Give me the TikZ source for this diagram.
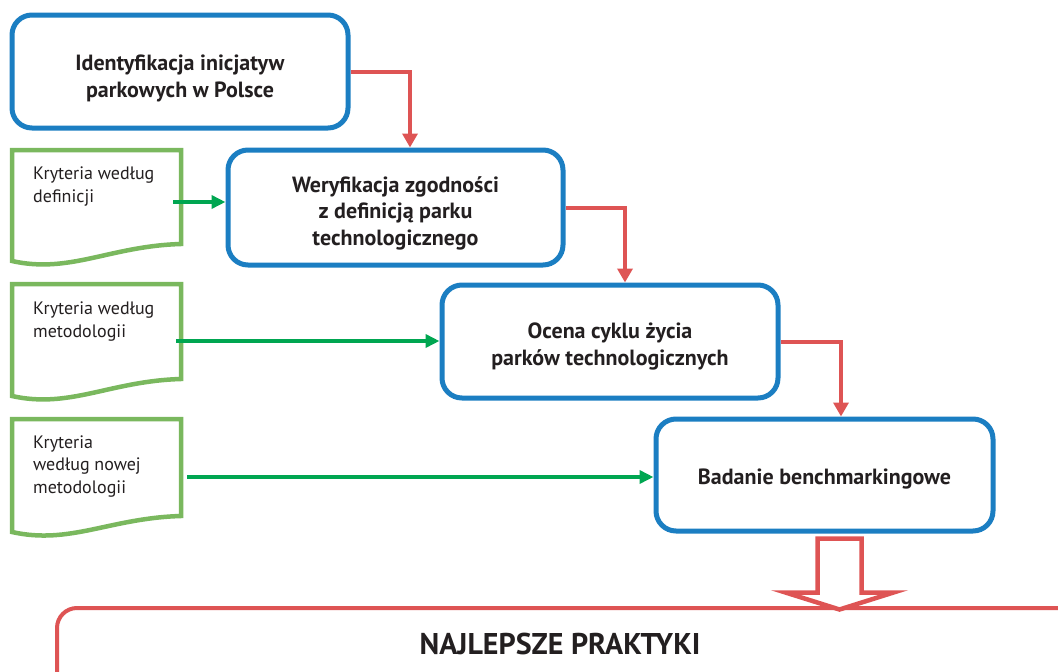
\documentclass[tikz,border=0pt]{standalone}
\usepackage{fontspec}
\setmainfont{PT Sans}
\usetikzlibrary{arrows.meta,calc}
\definecolor{boxblue}{HTML}{1B7EC2}
\definecolor{flowred}{HTML}{DE5454}
\definecolor{docgreen}{HTML}{7AB85E}
\definecolor{inarrow}{HTML}{00A651}
\definecolor{ink}{HTML}{231F20}
\tikzset{
  stagebox/.style={draw=boxblue, line width=5pt, rounded corners=20pt, fill=white},
  stagetext/.style={text=ink, align=center, inner sep=0pt,
    font=\fontsize{22}{26.5}\selectfont\bfseries},
  docshape/.style={draw=docgreen, line width=4.5pt, fill=white, line join=miter},
  doctext/.style={anchor=base west, align=left, text=ink, inner sep=0pt,
    font=\fontsize{18}{22.3}\selectfont},
  flow/.style={draw=flowred, line width=4pt, -{Triangle[length=14pt,width=15pt]}},
  feed/.style={draw=inarrow, line width=3.5pt, -{Triangle[length=14pt,width=13pt]}},
}
\begin{document}
\begin{tikzpicture}[x=1pt,y=-1pt]
\useasboundingbox (0,0) rectangle (1058,672);

% process stages
\node[stagebox, minimum width=336pt, minimum height=113pt] (box1) at (180,71.5) {};
\node[stagebox, minimum width=335pt, minimum height=115pt] (box2) at (395.5,207.5) {};
\node[stagebox, minimum width=336pt, minimum height=113pt] (box3) at (610,341.5) {};
\node[stagebox, minimum width=337pt, minimum height=112pt] (box4) at (824.5,475) {};
\node[stagetext] (box1text) at ($(box1.center)+(0,7)$)
  {Identyfikacja inicjatyw\\parkowych w Polsce};
\node[stagetext] (box2text) at ($(box2.center)+(0,5.5)$)
  {Weryfikacja zgodności\\z definicją parku\\technologicznego};
\node[stagetext] (box3text) at ($(box3.center)+(0,5)$)
  {Ocena cyklu życia\\parków technologicznych};
\node[stagetext] (box4text) at ($(box4.center)+(0,4.5)$)
  {Badanie benchmarkingowe};

% criteria documents
\draw[docshape] (12,261) -- (12,150) -- (181,150) -- (181,244)
  .. controls (110,246) and (70,274) .. cycle;
\draw[docshape] (12,396) -- (12,284) -- (181,284) -- (181,379)
  .. controls (110,381) and (70,409) .. cycle;
\draw[docshape] (12,532) -- (12,419) -- (181,419) -- (181,516)
  .. controls (110,518) and (70,545) .. cycle;
% (anchored at the baseline of the last line)
\node[doctext] (doc1) at (33,202) {Kryteria według\\definicji};
\node[doctext] (doc2) at (33,337) {Kryteria według\\metodologii};
\node[doctext] (doc3) at (33,493) {Kryteria\\według nowej\\metodologii};
\coordinate (out1) at (173,202);
\coordinate (out2) at (176,341);
\coordinate (out3) at (187,477);

% criteria feeding the stages
\draw[feed] (out1) -- (out1 -| box2.west);
\draw[feed] (out2) -- (out2 -| box3.west);
\draw[feed] (out3) -- (out3 -| box4.west);

% sequence of stages
\draw[flow] (box1.east) -| ([xshift=14.5pt]box2.north);
\draw[flow] (box2.east) -| ([xshift=15pt]box3.north);
\draw[flow] (box3.east) -| ([xshift=16.5pt]box4.north);

% result
\draw[draw=flowred, line width=4pt, rounded corners=20pt, fill=white]
  (57,608) rectangle (1100,720);
\node[text=ink, font=\fontsize{30}{34}\selectfont\bfseries] (best) at (560,644)
  {NAJLEPSZE PRAKTYKI};
\coordinate (bigtop) at ($(box4.south)+(15,5)$);
\draw[draw=flowred, line width=4.5pt, fill=white, line join=miter]
  ($(bigtop)+(-22,0)$) -- ($(bigtop)+(22,0)$) -- ($(bigtop)+(22,54)$)
  -- ($(bigtop)+(54,54)$) -- ($(bigtop)+(0,71)$) -- ($(bigtop)+(-54,54)$)
  -- ($(bigtop)+(-22,54)$) -- cycle;
\end{tikzpicture}
\end{document}
